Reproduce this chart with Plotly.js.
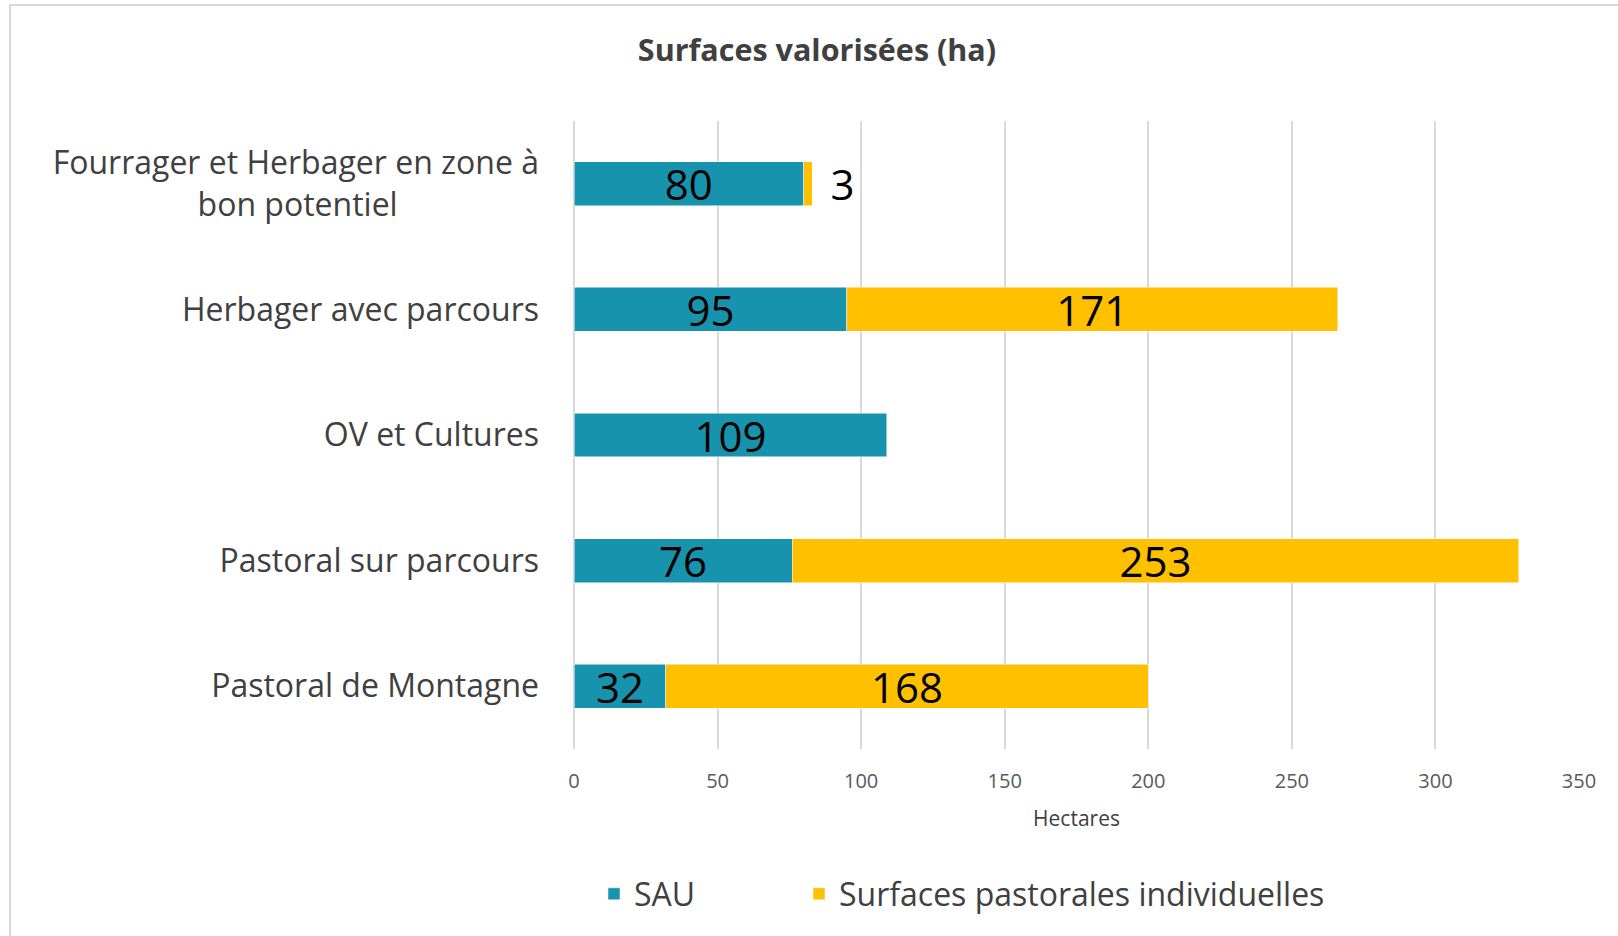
<!DOCTYPE html>
<html>
<head>
<meta charset="utf-8">
<script src="https://cdn.plot.ly/plotly-3.0.1.min.js"></script>
<style>
html,body{margin:0;padding:0;background:#fff;}
#chart{width:1618px;height:936px;}
</style>
</head>
<body>
<div id="chart"></div>
<script>
// Data (top to bottom as displayed)
var categories = [
  "Fourrager et Herbager en zone à<br>bon potentiel",
  "Herbager avec parcours",
  "OV et Cultures",
  "Pastoral sur parcours",
  "Pastoral de Montagne"
];
var sau = [80, 95, 109, 76, 32];
var pastorales = [3, 171, null, 253, 168];
var seriesNames = ["SAU", "Surfaces pastorales individuelles"];
var xTicks = [0, 50, 100, 150, 200, 250, 300, 350];

var teal = "#1893AD";
var gold = "#FFC000";
var labelFont = {family: "Open Sans, Noto Sans, sans-serif", size: 42, color: "#000000"};
var NB = "\u00a0";

// tick text: centre the second line of wrapped labels by padding with non-breaking spaces
var tickText = categories.map(function(c){
  var parts = c.split("<br>");
  if (parts.length < 2) return c;
  return parts[0] + "<br>" + parts[1] + new Array(18).join(NB);
});

var traces = [
  {
    type: "bar", orientation: "h", name: seriesNames[0], legend: "legend",
    y: categories, x: sau,
    marker: {color: teal, line: {color: "#ffffff", width: 0.5}},
    text: sau.map(function(v){return v === null ? "" : String(v);}),
    textposition: "inside", insidetextanchor: "middle", textangle: 0,
    textfont: labelFont, insidetextfont: labelFont,
    constraintext: "none", cliponaxis: false,
    hoverinfo: "x+name"
  },
  {
    type: "bar", orientation: "h", name: seriesNames[1], legend: "legend2",
    y: categories, x: pastorales,
    marker: {color: gold, line: {color: "#ffffff", width: 0.5}},
    text: pastorales.map(function(v){
      if (v === null) return "";
      return v < 10 ? NB + "\u200a" + String(v) : String(v);
    }),
    textposition: pastorales.map(function(v){return (v !== null && v < 10) ? "outside" : "inside";}),
    insidetextanchor: "middle", textangle: 0,
    textfont: labelFont, insidetextfont: labelFont, outsidetextfont: labelFont,
    constraintext: "none", cliponaxis: false,
    hoverinfo: "x+name"
  }
];

var L = 574, R = 39, T = 121, B = 187;
var pw = 1618 - L - R, ph = 936 - T - B;
function px2x(p){ return (p - L) / pw; }
function py2y(p){ return (936 - B - p) / ph; }

var legendFont = {family: "Open Sans, sans-serif", size: 32, color: "#404040"};

var layout = {
  width: 1618, height: 936,
  paper_bgcolor: "#ffffff", plot_bgcolor: "#ffffff",
  margin: {l: L, r: R, t: T, b: B, pad: 0},
  barmode: "stack",
  bargap: 0.65,
  font: {family: "Open Sans, Noto Sans, sans-serif", color: "#404040"},
  title: {
    text: "<b>Surfaces valorisées (ha)</b>",
    font: {family: "Open Sans, sans-serif", size: 30.5, color: "#404040"},
    x: 817 / 1618, xanchor: "center", xref: "container",
    y: 1 - 50 / 936, yanchor: "middle", yref: "container"
  },
  xaxis: {
    range: [0, 350], tickvals: xTicks, ticktext: xTicks.map(String),
    showgrid: true, gridcolor: "#d9d9d9", gridwidth: 2,
    zeroline: true, zerolinecolor: "#d9d9d9", zerolinewidth: 2,
    showline: false, ticks: "",
    tickfont: {family: "Open Sans, sans-serif", size: 20, color: "#595959"},
    ticklabelstandoff: 18,
    title: {text: "Hectares", font: {family: "Open Sans, sans-serif", size: 21, color: "#404040"}, standoff: 18},
    fixedrange: true
  },
  yaxis: {
    type: "category", autorange: "reversed",
    tickvals: categories, ticktext: tickText,
    showgrid: false, zeroline: false, showline: false, ticks: "",
    tickfont: {family: "Open Sans, sans-serif", size: 32, color: "#404040"},
    ticklabelstandoff: 34,
    fixedrange: true
  },
  legend: {
    orientation: "h",
    x: px2x(594), xanchor: "left",
    y: py2y(894), yanchor: "middle",
    font: legendFont, itemwidth: 30,
    bgcolor: "rgba(0,0,0,0)"
  },
  legend2: {
    orientation: "h",
    x: px2x(799), xanchor: "left",
    y: py2y(894), yanchor: "middle",
    font: legendFont, itemwidth: 30,
    bgcolor: "rgba(0,0,0,0)"
  },
  shapes: [
    {type: "rect", xref: "paper", yref: "paper",
     x0: px2x(10), x1: px2x(1640), y0: py2y(960), y1: py2y(5),
     line: {color: "#d9d9d9", width: 2}, fillcolor: "rgba(0,0,0,0)", layer: "below"}
  ],
  showlegend: true
};

Plotly.newPlot("chart", traces, layout, {displayModeBar: false});
</script>
</body>
</html>
